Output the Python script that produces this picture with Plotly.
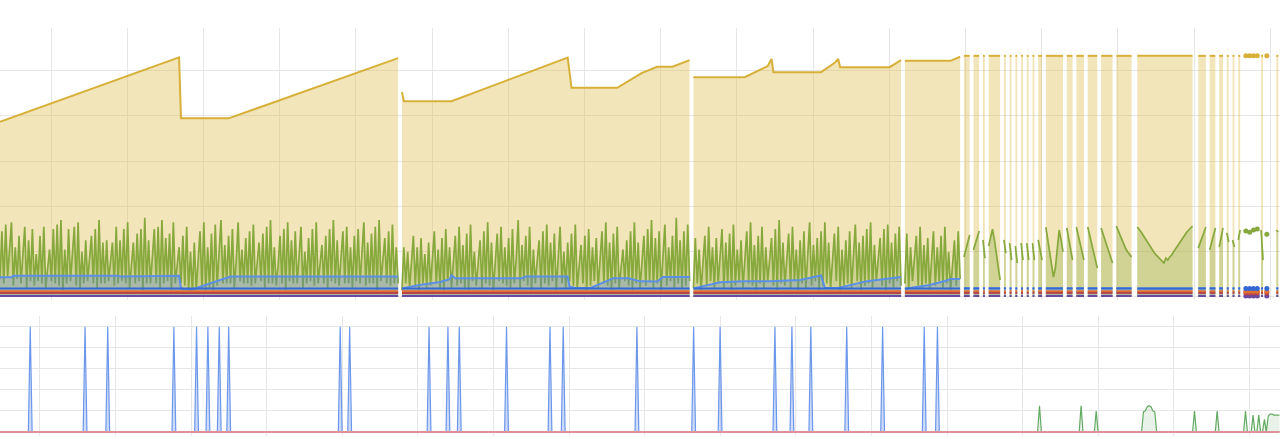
import plotly.graph_objects as go

# ---------------- top panel: stacked resource usage ----------------
# sample runs that carry data (inclusive sample ranges); other samples are missing
TOP_RUNS = [
    (0, 209), (211, 362), (364, 473), (475, 504),
    (506, 509), (511, 514), (516, 517), (519, 525), (527, 528), (530, 531),
    (533, 534), (536, 537), (539, 540), (542, 543), (545, 547), (549, 558),
    (560, 563), (565, 569), (571, 576), (578, 584), (586, 594), (597, 626),
    (629, 633), (635, 638), (640, 642), (644, 645), (647, 648), (650, 651),
    (654, 654), (656, 656), (658, 658), (660, 660), (662, 663), (665, 665),
    (670, 671),
]
N_DENSE_RUNS = 4

# gold series: vertices inside the four long runs, flat level afterwards
GOLD_T = [0, 94, 95, 120, 209,
          211, 212, 237, 298, 300, 324, 337, 345, 353, 362,
          364, 391, 403, 405, 406, 431, 438, 440, 441, 467, 473,
          475, 499, 504]
GOLD_V = [77.4, 105.8, 78.9, 78.9, 105.5,
          90.5, 86.5, 86.5, 105.7, 92.4, 92.4, 99.0, 101.7, 101.7, 104.6,
          97.1, 97.1, 102.0, 105.1, 99.3, 99.3, 103.3, 105.1, 101.5, 101.5, 104.6,
          104.3, 104.3, 106.1]
GOLD_LATE = 106.5

# light blue area: vertices inside the long runs
BLUE_T = [0, 6, 7, 62, 63, 94, 95, 100, 121, 209,
          211, 220, 231, 236, 237, 239, 274, 276, 298, 299, 302, 310, 322, 330, 336, 345, 348, 362,
          364, 378, 391, 404, 420, 431, 433, 440, 455, 473,
          475, 488, 496, 499, 504]
BLUE_V = [8.7, 8.7, 9.4, 9.4, 9.0, 9.4, 3.8, 3.1, 9.0, 9.0,
          3.8, 5.3, 6.6, 7.9, 9.7, 8.3, 8.3, 9.0, 9.0, 4.5, 4.0, 4.0, 8.3, 8.3, 6.9, 6.8, 8.8, 8.8,
          3.8, 6.5, 6.9, 7.0, 7.5, 9.5, 4.0, 4.0, 7.0, 8.8,
          3.6, 5.3, 7.1, 7.9, 7.9]
BLUE_LATE = 3.8

# flat low series
DARK_BLUE_LEVEL = 3.8
ORANGE_LEVEL = 2.5
RED_LEVEL = 1.8
PURPLE_LEVEL = 0.45

# green series, one value per sample
GREEN_A = [8, 29, 6, 32, 9, 20, 33,
           5, 22, 8, 27, 6, 18, 31,
           4, 25, 7, 30, 5, 19, 7, 27,
           6, 31, 4, 14, 21, 7, 30, 6, 32, 5, 34,
           3, 21, 6, 30, 7, 17, 31, 5, 33, 4, 20,
           6, 25, 7, 16, 27, 6, 30, 4, 34,
           6, 24, 6, 25, 7, 16, 24, 5, 31, 6, 25, 7, 30,
           6, 33, 4, 15, 24, 6, 28, 7, 30, 3, 35,
           6, 25, 6, 17, 30, 6, 31, 4, 34, 6, 26,
           7, 28, 3, 33, 6, 14, 22, 6, 27, 5, 31,
           3, 20, 2, 24, 3, 15, 29, 4, 33, 3, 22,
           4, 28, 3, 32, 5, 18, 34, 6, 23, 6, 27,
           6, 30, 4, 16, 33, 7, 21, 6, 26, 6, 29,
           5, 32, 6, 15, 24, 7, 28, 4, 31, 6, 34,
           6, 22, 5, 14, 27, 6, 30, 3, 33, 7, 25,
           6, 29, 6, 18, 31, 4, 20, 6, 26, 7, 30,
           5, 33, 6, 15, 23, 6, 27, 4, 30, 7, 34,
           6, 25, 5, 17, 29, 6, 31, 6, 22, 4, 27,
           7, 30, 6, 19, 33, 5, 24, 6, 28, 6, 31,
           3, 34, 7, 16, 26, 6, 29, 5, 32, 6, 22, 6]
GREEN_B = [3, 22, 6, 20, 4, 14, 27,
           5, 22, 3, 26, 6, 19, 4, 24,
           5, 16, 29, 6, 21, 4, 26, 3, 30,
           7, 22, 4, 15, 27, 5, 31, 6, 23, 4, 28,
           3, 32, 7, 20, 5, 16, 25, 4, 29, 6, 33,
           5, 24, 3, 18, 28, 7, 31, 6, 22, 5, 26,
           4, 30, 6, 17, 34, 4, 23, 7, 27, 5, 31,
           3, 21, 6, 16, 25, 4, 29, 6, 32, 5, 24,
           7, 28, 3, 18, 31, 6, 20, 4, 24, 7, 28,
           5, 32, 4, 15, 23, 6, 27, 3, 30, 5, 22,
           7, 26, 4, 17, 29, 6, 33, 5, 24, 3, 28,
           6, 31, 4, 14, 21, 7, 25, 5, 29, 3, 33,
           6, 24, 4, 18, 27, 5, 30, 7, 34, 4, 26,
           6, 29, 3, 16, 32, 5, 22, 7, 27, 4, 35,
           6, 25, 4, 29, 5, 32, 7]
GREEN_C = [4, 26, 6, 21, 3, 15, 27,
           5, 31, 7, 22, 4, 26, 6, 17, 30,
           4, 24, 6, 28, 3, 32, 5, 21, 7, 25,
           4, 16, 29, 6, 33, 5, 23, 3, 27, 6, 31,
           4, 22, 7, 18, 26, 5, 30, 3, 34, 6, 24,
           5, 15, 28, 4, 31, 7, 21, 3, 25, 6, 29,
           4, 17, 33, 5, 23, 7, 26, 3, 29, 5, 33,
           6, 24, 4, 16, 28, 7, 31, 3, 21, 5, 25,
           6, 29, 4, 18, 32, 7, 24, 3, 27, 5, 30,
           6, 33, 4, 23, 7, 17, 26, 5, 30, 3, 32,
           6, 24, 4, 28, 7, 31, 5]
GREEN_D = [6, 28, 4, 22, 7, 16, 27, 5, 31, 4,
           23, 6, 26, 3, 17, 29, 5, 22, 7, 27,
           4, 31, 6, 20, 3, 16, 25, 5, 29, 8]
GREEN_LATE = [17.7, 20.8, 24.3, 27.4,
              20.8, 23.4, 26.0, 29.1,
              25.2, 17.2,
              22.5, 26.9, 30.0, 25.2, 18.5, 12.8, 7.5,
              25.2, 19.4,
              23.8, 16.3,
              22.5, 15.0,
              23.8, 16.3,
              23.8, 16.3,
              23.8, 16.3,
              25.2, 20.8, 16.3,
              30.9, 25.2, 18.5, 14.1, 8.8, 12.8, 23.0, 29.6, 25.2, 19.9,
              30.5, 26.0, 20.8, 16.3,
              30.9, 26.9, 23.0, 19.4, 16.3,
              30.9, 27.4, 23.4, 19.9, 16.3, 12.8,
              30.5, 27.8, 24.7, 22.1, 19.4, 17.2, 15.0,
              31.3, 29.1, 26.9, 24.7, 23.0, 21.2, 19.9, 18.5, 17.7,
              30.9, 30.0, 28.7, 27.4, 26.0, 24.7, 23.4, 22.1, 20.8, 19.4,
              18.5, 17.7, 16.8, 15.9, 15.0, 17.2, 16.3, 17.7, 18.5, 19.9,
              21.2, 22.5, 23.8, 25.2, 26.5, 27.4, 28.7, 29.6, 30.5, 31.3,
              21.6, 23.8, 26.5, 28.7, 30.9,
              20.8, 23.8, 26.9, 30.5,
              22.1, 26.5, 30.5,
              28.3, 24.3,
              25.2, 22.1,
              25.2, 29.6,
              29.1,
              28.6,
              29.6,
              30.0,
              29.6, 16.3,
              27.7,
              29.6, 28.7]

# ---------------- bottom panel: events ----------------
BOT_SAMPLES = 678
BOT_BLUE_EVENTS = [16, 45, 57, 92, 104, 110, 116, 121, 180, 185, 227, 237, 243,
                   268, 291, 298, 337, 367, 381, 410, 419, 429, 448, 467, 489, 496]
BOT_BLUE_PEAK = 100
BOT_GREEN_IDX = [550, 572, 580, 605, 606, 607, 608, 609, 610, 611, 632, 644, 659,
                 663, 666, 669, 671, 672, 673, 674, 675, 676, 677]
BOT_GREEN_VAL = [25, 25, 20, 19, 20, 24, 25, 24, 20, 19, 20, 20, 20,
                 16, 16, 12, 15, 17, 17, 16, 16, 16, 16]

# ---------------- colours ----------------
GOLD = "#d7b03a"
GREEN = "#86a83c"
LIGHT_BLUE = "#5b8fe8"
DARK_BLUE = "#3567d6"
ORANGE = "#e07030"
RED = "#b8454a"
PURPLE = "#6a4a9e"
GRID = "#e6e6e6"


def per_sample(runs, values):
    """Lay consecutive values onto the sample runs, None between runs."""
    t, v, k = [], [], 0
    for s, e in runs:
        for i in range(s, e + 1):
            t.append(i)
            v.append(values[k])
            k += 1
        t.append(None)
        v.append(None)
    return t, v


def vertices_then_flat(vt, vv, runs, level):
    """Vertex list for the long runs, flat level for the short ones."""
    t, v = [], []
    for s, e in runs[:N_DENSE_RUNS]:
        for ti, vi in zip(vt, vv):
            if s <= ti <= e:
                t.append(ti)
                v.append(vi)
        t.append(None)
        v.append(None)
    for s, e in runs[N_DENSE_RUNS:]:
        pts = [s, e] if e > s else [s]
        t += pts
        v += [level] * len(pts)
        t.append(None)
        v.append(None)
    return t, v


def flat(runs, level):
    t, v = [], []
    for s, e in runs:
        pts = [s, e] if e > s else [s]
        t += pts
        v += [level] * len(pts)
        t.append(None)
        v.append(None)
    return t, v


def area_outline(t, v):
    """Close every gap-free piece of a line down to zero, so fills stop at gaps."""
    ot, ov, piece = [], [], []
    for ti, vi in list(zip(t, v)) + [(None, None)]:
        if ti is None:
            if len(piece) > 1:
                ot += [piece[0][0]] + [p[0] for p in piece] + [piece[-1][0], None]
                ov += [0] + [p[1] for p in piece] + [0, None]
            piece = []
        else:
            piece.append((ti, vi))
    return ot, ov


def add_area(fig, t, v, colour, fillcolour, width):
    at, av = area_outline(t, v)
    fig.add_trace(go.Scatter(x=at, y=av, mode="lines", fill="toself",
                             fillcolor=fillcolour, line=dict(width=0),
                             hoverinfo="skip", xaxis="x", yaxis="y"))
    fig.add_trace(go.Scatter(x=t, y=v, mode="lines", line=dict(color=colour, width=width),
                             xaxis="x", yaxis="y"))


single_idx = [s for s, e in TOP_RUNS if s == e]

fig = go.Figure()

gold_t, gold_v = vertices_then_flat(GOLD_T, GOLD_V, TOP_RUNS, GOLD_LATE)
add_area(fig, gold_t, gold_v, GOLD, "rgba(226,190,82,0.40)", 2)

green_all = GREEN_A + GREEN_B + GREEN_C + GREEN_D + GREEN_LATE
green_t, green_v = per_sample(TOP_RUNS, green_all)
add_area(fig, green_t, green_v, GREEN, "rgba(134,168,60,0.30)", 1.7)

blue_t, blue_v = vertices_then_flat(BLUE_T, BLUE_V, TOP_RUNS, BLUE_LATE)
add_area(fig, blue_t, blue_v, LIGHT_BLUE, "rgba(80,128,220,0.30)", 2)

for level, colour in [(DARK_BLUE_LEVEL, DARK_BLUE), (ORANGE_LEVEL, ORANGE),
                      (RED_LEVEL, RED), (PURPLE_LEVEL, PURPLE)]:
    ft, fv = flat(TOP_RUNS, level)
    fig.add_trace(go.Scatter(x=ft, y=fv, mode="lines", line=dict(color=colour, width=2),
                             xaxis="x", yaxis="y"))

# isolated samples show up as dots
green_lookup = {ti: vi for ti, vi in zip(green_t, green_v) if ti is not None}
for values, colour in [([GOLD_LATE] * len(single_idx), GOLD),
                       ([green_lookup[i] for i in single_idx], GREEN),
                       ([PURPLE_LEVEL] * len(single_idx), PURPLE),
                       ([RED_LEVEL] * len(single_idx), RED),
                       ([ORANGE_LEVEL] * len(single_idx), ORANGE),
                       ([DARK_BLUE_LEVEL] * len(single_idx), DARK_BLUE)]:
    fig.add_trace(go.Scatter(x=single_idx, y=values, mode="markers",
                             marker=dict(color=colour, size=5), xaxis="x", yaxis="y"))

# bottom panel
bot_t = list(range(BOT_SAMPLES))
bot_blue = [BOT_BLUE_PEAK if i in BOT_BLUE_EVENTS else 0 for i in bot_t]
green_map = dict(zip(BOT_GREEN_IDX, BOT_GREEN_VAL))
bot_green = [green_map.get(i, 0) for i in bot_t]
fig.add_trace(go.Scatter(x=bot_t, y=bot_blue, mode="lines", fill="tozeroy",
                         line=dict(color="#6d97ea", width=1.2),
                         fillcolor="rgba(109,151,234,0.35)", xaxis="x2", yaxis="y2"))
fig.add_trace(go.Scatter(x=bot_t, y=bot_green, mode="lines", fill="tozeroy",
                         line=dict(color="#62aa62", width=1.2),
                         fillcolor="rgba(98,170,98,0.15)", xaxis="x2", yaxis="y2"))
fig.add_trace(go.Scatter(x=bot_t, y=[0] * BOT_SAMPLES, mode="lines",
                         line=dict(color="#e0929a", width=2.2), xaxis="x2", yaxis="y2"))

axis_common = dict(showgrid=True, gridcolor=GRID, gridwidth=1, zeroline=False,
                   showticklabels=False, ticks="", showline=False)
fig.update_layout(
    width=1280, height=438, margin=dict(l=0, r=0, t=0, b=0),
    paper_bgcolor="white", plot_bgcolor="white", showlegend=False,
    xaxis=dict(domain=[0, 1], range=[0, 1280 / 1.905], tick0=26.77, dtick=40,
               anchor="y", **axis_common),
    yaxis=dict(domain=[0.3151, 0.9361], range=[-1.32, 118.8], tick0=0, dtick=20,
               anchor="x", **axis_common),
    xaxis2=dict(domain=[0, 1], range=[0, 1280 / 1.89], tick0=21.16, dtick=40,
                anchor="y2", **axis_common),
    yaxis2=dict(domain=[0.0046, 0.2785], range=[-3.8, 110.2], tick0=0, dtick=20,
                anchor="x2", **axis_common),
)

fig.write_html("out.html")
